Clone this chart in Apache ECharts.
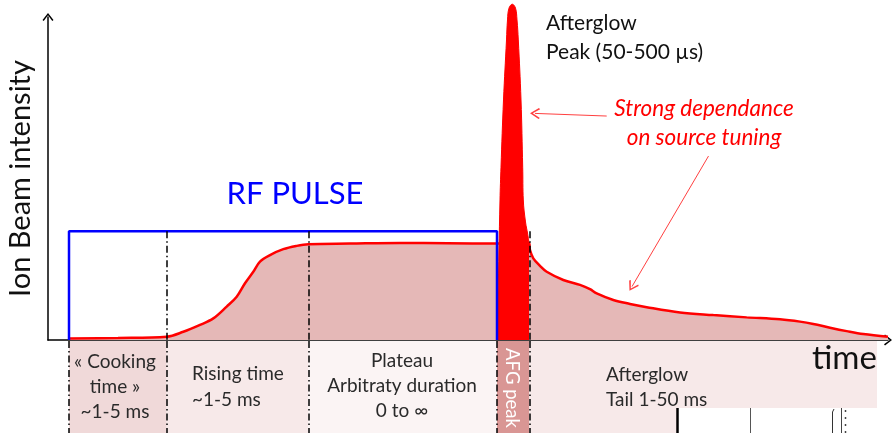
<!DOCTYPE html>
<html>
<head>
<meta charset="utf-8">
<script src="https://cdn.jsdelivr.net/npm/echarts@6/dist/echarts.min.js"></script>
<style>
  html, body { margin: 0; padding: 0; background: #ffffff; }
  #chart { width: 895px; height: 433px; }
</style>
</head>
<body>
<div id="chart"></div>
<script>
// Schematic ion beam pulse: time in arbitrary ms-like units, intensity in arbitrary units.

// Beam current envelope (cooking, rise, plateau, afterglow tail)
const beamTime  = [2.1, 7.0, 11.87, 13.53, 15.2, 16.53, 17.87, 18.87, 19.7, 20.53, 21.2, 22.2, 23.53, 24.87, 26.03, 30.2, 35.2, 40.0, 44.9,
                   48.1, 48.2, 48.53, 49.2, 49.87, 51.53, 53.2, 54.2, 54.87, 56.53, 58.2, 59.87, 63.2, 66.53, 69.87, 73.2, 75.2, 76.53, 78.2, 79.87, 81.53, 84.0];
const beamLevel = [0.45, 0.6, 1.0, 2.5, 4.6, 6.6, 10.2, 13.2, 17.3, 20.8, 23.9, 25.9, 27.7, 28.7, 29.2, 29.4, 29.6, 29.5, 29.4,
                   29.6, 27.4, 24.9, 22.6, 20.8, 18.3, 16.8, 15.5, 14.2, 12.2, 11.0, 10.0, 8.4, 7.6, 6.9, 6.3, 5.6, 4.9, 3.75, 2.7, 1.8, 1.0];

// Afterglow peak right after the RF switches off
const peakTime  = [44.9, 45.0, 45.2, 45.3, 45.55, 45.85, 45.95, 46.1, 46.43, 46.75, 46.9, 47.03, 47.3, 47.47, 47.53, 47.75, 47.97, 48.1];
const peakLevel = [0, 12.2, 42.7, 52.7, 73.2, 91.5, 97.6, 101.2, 102.4, 101.2, 97.6, 91.5, 73.2, 52.7, 42.7, 36.0, 32.3, 29.6];

// RF pulse envelope
const pulseTime  = [2.1, 2.1, 44.9, 44.9];
const pulseLevel = [0, 33.2, 33.2, 0];

// Phase boundaries along the time axis
const phaseStart = [2.1, 11.87, 26.03, 44.9, 48.13];
const phaseEnd   = [11.87, 26.03, 44.9, 48.13, 82.9];
const phaseNames = ['« Cooking\ntime »\n~1-5 ms', 'Rising time\n~1-5 ms', 'Plateau\nArbitraty duration\n0 to ∞', 'AFG peak', 'Afterglow\nTail 1-50 ms'];
const dividerTimes = [11.87, 26.03, 48.13];          // dash-dot cursors drawn from the pulse top down
const edgeTimes    = [2.1, 11.87, 26.03, 44.9, 48.13]; // dash-dot cursors in the phase strip

const FONT = 'Lato, "Open Sans", "Liberation Sans", sans-serif';
const bandFill = ['#F0D9D9', '#F7E9E9', '#FBF4F4', '#D99694', '#F7E9E9'];
const zip = (a, b) => a.map((v, i) => [v, b[i]]);

const chevron = 'path://M0,7 L5.5,0 L11,7 L9.8,8 L5.5,2.2 L1.2,8 Z';
const dashDot = [7, 3, 1.5, 3];

const chart = echarts.init(document.getElementById('chart'), null, { renderer: 'canvas' });

chart.setOption({
  animation: false,
  backgroundColor: '#ffffff',
  grid: [
    { left: 48, right: 7, top: 17, bottom: 93, containLabel: false, outerBoundsMode: 'none' },
    { left: 48, right: 7, top: 341, bottom: 0, containLabel: false, outerBoundsMode: 'none' }
  ],
  xAxis: [
    {
      type: 'value', gridIndex: 0, min: 0, max: 84,
      axisLine: { show: true, onZero: false, symbol: ['none', chevron], symbolSize: [11, 9],
                  lineStyle: { color: '#000', width: 1.5 } },
      axisTick: { show: false }, axisLabel: { show: false }, splitLine: { show: false }
    },
    {
      type: 'value', gridIndex: 1, min: 0, max: 84, show: false
    }
  ],
  yAxis: [
    {
      type: 'value', gridIndex: 0, min: 0, max: 98.5,
      name: 'Ion Beam intensity', nameLocation: 'middle', nameRotate: 90, nameGap: 13,
      nameTextStyle: { fontSize: 29, color: '#111', fontFamily: FONT },
      axisLine: { show: true, onZero: false, symbol: ['none', chevron], symbolSize: [11, 9],
                  lineStyle: { color: '#000', width: 1.5 } },
      axisTick: { show: false }, axisLabel: { show: false }, splitLine: { show: false }
    },
    {
      type: 'value', gridIndex: 1, min: 0, max: 1, inverse: true, show: false
    }
  ],
  series: [
    {
      // phase strip below the time axis
      type: 'custom', xAxisIndex: 1, yAxisIndex: 1, z: 1, silent: true,
      data: zip(phaseStart, phaseEnd),
      renderItem: function (params, api) {
        const a = api.coord([api.value(0), 0]);
        const b = api.coord([api.value(1), 1]);
        return { type: 'rect', shape: { x: a[0], y: a[1], width: b[0] - a[0], height: b[1] - a[1] },
                 style: { fill: bandFill[params.dataIndex] } };
      },
      markLine: {
        silent: true, symbol: ['none', 'none'], label: { show: false },
        lineStyle: { color: '#000', width: 1.5, type: dashDot },
        data: edgeTimes.map(t => ({ xAxis: t }))
      }
    },
    {
      name: 'Beam', type: 'line', xAxisIndex: 0, yAxisIndex: 0, z: 2,
      data: zip(beamTime, beamLevel),
      smooth: 0.35, symbol: 'none',
      lineStyle: { color: '#FF0000', width: 2.5 },
      areaStyle: { color: '#E5B8B7', opacity: 1 }
    },
    {
      name: 'AFG peak', type: 'line', xAxisIndex: 0, yAxisIndex: 0, z: 3, clip: false,
      data: zip(peakTime, peakLevel),
      smooth: 0.4, symbol: 'none',
      lineStyle: { color: '#FF0000', width: 1 },
      areaStyle: { color: '#FF0000', opacity: 1 },
      markLine: {
        silent: true, symbol: ['none', chevron], symbolSize: [11, 10], label: { show: false },
        lineStyle: { color: '#FF4040', width: 1, type: 'solid' },
        data: [
          [{ coord: [55.87, 68.3] }, { coord: [48.7, 69.1] }],
          [{ coord: [66.05, 56.1] }, { coord: [58.4, 16.3] }]
        ]
      }
    },
    {
      name: 'RF pulse', type: 'line', xAxisIndex: 0, yAxisIndex: 0, z: 4,
      data: zip(pulseTime, pulseLevel),
      symbol: 'none',
      lineStyle: { color: '#0000FF', width: 2.5 },
      markLine: {
        silent: true, symbol: ['none', 'none'], label: { show: false },
        lineStyle: { color: '#000', width: 1.5, type: dashDot },
        data: dividerTimes.map(t => [{ coord: [t, pulseLevel[1]] }, { coord: [t, 0] }])
      }
    }
  ],
  graphic: [
    { type: 'text', x: 295, y: 194, z: 10, style: { text: 'RF PULSE', font: '31px ' + FONT, fill: '#0000FF', align: 'center', verticalAlign: 'middle' } },
    { type: 'text', x: 546, y: 38, z: 10, style: { text: 'Afterglow\nPeak (50-500 µs)', font: '21px ' + FONT, lineHeight: 29, fill: '#111', align: 'left', verticalAlign: 'middle' } },
    { type: 'text', x: 704, y: 123, z: 10, style: { text: 'Strong dependance\non source tuning', font: 'italic 22.5px ' + FONT, lineHeight: 29, fill: '#FF0000', align: 'center', verticalAlign: 'middle' } },
    { type: 'text', x: 812, y: 358, z: 10, style: { text: 'time', font: '33px ' + FONT, fill: '#111', align: 'left', verticalAlign: 'middle' } },
    { type: 'text', x: 115, y: 387, z: 10, style: { text: phaseNames[0], font: '19px ' + FONT, lineHeight: 25, fill: '#2a2a2a', align: 'center', verticalAlign: 'middle' } },
    { type: 'text', x: 192, y: 387, z: 10, style: { text: phaseNames[1], font: '19px ' + FONT, lineHeight: 26, fill: '#2a2a2a', align: 'left', verticalAlign: 'middle' } },
    { type: 'text', x: 402, y: 386, z: 10, style: { text: phaseNames[2], font: '19px ' + FONT, lineHeight: 25, fill: '#2a2a2a', align: 'center', verticalAlign: 'middle' } },
    { type: 'text', x: 512, y: 388, z: 10, rotation: -Math.PI / 2, style: { text: phaseNames[3], font: '18.5px ' + FONT, fill: '#FFFFFF', align: 'center', verticalAlign: 'middle' } },
    { type: 'text', x: 606, y: 387, z: 10, style: { text: phaseNames[4], font: '19px ' + FONT, lineHeight: 25, fill: '#2a2a2a', align: 'left', verticalAlign: 'middle' } },
    // cropped edge of a neighbouring drawing at the lower right
    { type: 'rect', z: 9, shape: { x: 677, y: 408, width: 218, height: 25 }, style: { fill: '#FFFFFF' } },
    { type: 'line', z: 10, shape: { x1: 677.5, y1: 408, x2: 677.5, y2: 433 }, style: { stroke: '#000', lineWidth: 2.5 } },
    { type: 'line', z: 10, shape: { x1: 750.5, y1: 408, x2: 750.5, y2: 433 }, style: { stroke: '#555', lineWidth: 1 } },
    { type: 'polyline', z: 10, shape: { points: [[834, 409], [832.5, 412], [832.5, 433]] }, style: { stroke: '#333', lineWidth: 1, fill: null } },
    { type: 'line', z: 10, shape: { x1: 841.5, y1: 408, x2: 841.5, y2: 433 }, style: { stroke: '#444', lineWidth: 1 } },
    { type: 'line', z: 10, shape: { x1: 845.5, y1: 410, x2: 845.5, y2: 433 }, style: { stroke: '#444', lineWidth: 1.5, lineDash: [2, 5] } }
  ]
});
</script>
</body>
</html>
